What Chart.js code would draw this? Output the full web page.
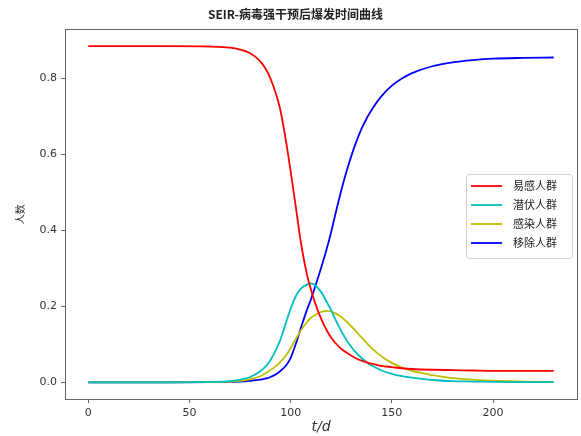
<!DOCTYPE html>
<html>
<head>
<meta charset="utf-8">
<script src="https://cdn.jsdelivr.net/npm/chart.js@4"></script>
<style>
html,body{margin:0;padding:0;background:#fff;}
#wrap{width:581px;height:436px;}
</style>
</head>
<body>
<div id="wrap"><canvas id="seirChart"></canvas></div>
<script>
// time axis (days)
const days = [0,20,40,60,70,75,80,85,88,90,93,95,98,100,103,105,108,110,112,115,118,120,122,125,128,130,132,135,138,140,145,150,155,160,170,180,190,200,215,230];

// S - susceptible
const susceptible = [0.885,0.885,0.885,0.884,0.881,0.876,0.866,0.845,0.822,0.80,0.755,0.715,0.625,0.555,0.445,0.37,0.285,0.245,0.21,0.168,0.135,0.118,0.104,0.088,0.077,0.07,0.064,0.057,0.052,0.049,0.043,0.04,0.037,0.035,0.033,0.032,0.031,0.03,0.03,0.03];
// E - exposed
const exposed = [0,0,0,0.001,0.003,0.007,0.014,0.029,0.044,0.058,0.088,0.113,0.162,0.194,0.231,0.246,0.257,0.26,0.256,0.238,0.21,0.19,0.167,0.135,0.108,0.093,0.08,0.064,0.051,0.044,0.031,0.022,0.016,0.012,0.006,0.003,0.002,0.001,0.0005,0.0002];
// I - infected
const infected = [0,0,0,0.0005,0.002,0.004,0.008,0.016,0.025,0.032,0.044,0.054,0.073,0.09,0.118,0.136,0.158,0.17,0.177,0.185,0.188,0.187,0.182,0.172,0.158,0.147,0.136,0.118,0.101,0.09,0.068,0.051,0.039,0.03,0.019,0.011,0.007,0.004,0.002,0.001];
// R - removed
const removed = [0,0,0,0.0003,0.001,0.002,0.004,0.007,0.01,0.014,0.022,0.03,0.046,0.064,0.108,0.142,0.19,0.218,0.25,0.30,0.355,0.395,0.44,0.505,0.562,0.596,0.627,0.667,0.699,0.717,0.754,0.781,0.80,0.814,0.832,0.842,0.848,0.852,0.854,0.855];

const xTicks = [0,50,100,150,200];
const yTicks = [0,0.2,0.4,0.6,0.8];

const labels = ['易感人群','潜伏人群','感染人群','移除人群'];
const colors = ['#ff0000','#00bfbf','#bfbf00','#0000ff'];
const series = [susceptible, exposed, infected, removed];

function toPoints(arr){
  return arr.map((v,i)=>({x:days[i], y:v}));
}

const frameAndLegend = {
  id:'frameAndLegend',
  afterDatasetsDraw(chart){
    const c = chart.ctx;
    const a = chart.chartArea;
    c.save();
    c.strokeStyle = '#666';
    c.lineWidth = 1;
    c.strokeRect(Math.round(a.left)+0.5, Math.round(a.top)+0.5, Math.round(a.right-a.left), Math.round(a.bottom-a.top));

    // legend box
    const bx = 466, by = 174, bw = 106, bh = 84;
    c.fillStyle = 'rgba(255,255,255,0.85)';
    c.strokeStyle = '#d0d0d0';
    c.beginPath();
    c.roundRect(bx+0.5, by+0.5, bw, bh, 3);
    c.fill();
    c.stroke();
    c.font = '11px "Noto Sans CJK SC"';
    c.textBaseline = 'middle';
    chart.data.datasets.forEach((ds,i)=>{
      const y = 186 + i*19;
      c.strokeStyle = ds.borderColor;
      c.lineWidth = 1.8;
      c.beginPath();
      c.moveTo(471, y);
      c.lineTo(502, y);
      c.stroke();
      c.fillStyle = '#222';
      c.fillText(ds.label, 513, y);
    });
    c.restore();
  }
};

new Chart(document.getElementById('seirChart'), {
  type:'line',
  data:{
    datasets: series.map((s,i)=>({
      label: labels[i],
      data: toPoints(s),
      borderColor: colors[i],
      backgroundColor: colors[i],
      borderWidth: 1.8,
      pointRadius: 0,
      cubicInterpolationMode: 'monotone',
      fill: false
    }))
  },
  options:{
    responsive:true,
    maintainAspectRatio:false,
    animation:false,
    layout:{ padding:{ left:14, right:4, top:0, bottom:0 } },
    plugins:{
      legend:{ display:false },
      tooltip:{ enabled:false },
      title:{
        display:true,
        text:'SEIR-病毒强干预后爆发时间曲线',
        color:'#222',
        font:{ family:'"Noto Sans CJK SC"', size:12 },
        padding:{ top:7, bottom:8 }
      }
    },
    scales:{
      x:{
        type:'linear',
        min:-11.5,
        max:241.5,
        afterBuildTicks(scale){ scale.ticks = xTicks.map(v=>({value:v})); },
        afterFit(scale){ scale.height = 37; },
        grid:{ drawOnChartArea:false, drawTicks:true, tickLength:4, color:'#666' },
        border:{ color:'#666' },
        ticks:{ color:'#333', font:{ family:'"DejaVu Sans"', size:11 }, padding:4, maxRotation:0 },
        title:{ display:true, text:'t/d', color:'#333', font:{ family:'"DejaVu Sans"', size:14, style:'italic' }, padding:{ top:0, bottom:0 } }
      },
      y:{
        min:-0.044,
        max:0.929,
        afterBuildTicks(scale){ scale.ticks = yTicks.map(v=>({value:v})); },
        afterFit(scale){ scale.width = 51; },
        grid:{ drawOnChartArea:false, drawTicks:true, tickLength:4, color:'#666' },
        border:{ color:'#666' },
        ticks:{ color:'#333', font:{ family:'"DejaVu Sans"', size:11 }, padding:4, callback:(v)=>v.toFixed(1) },
        title:{ display:true, text:'人数', color:'#333', font:{ family:'"Noto Sans CJK SC"', size:10 }, padding:{ top:0, bottom:0 } }
      }
    }
  },
  plugins:[frameAndLegend]
});
</script>
</body>
</html>
